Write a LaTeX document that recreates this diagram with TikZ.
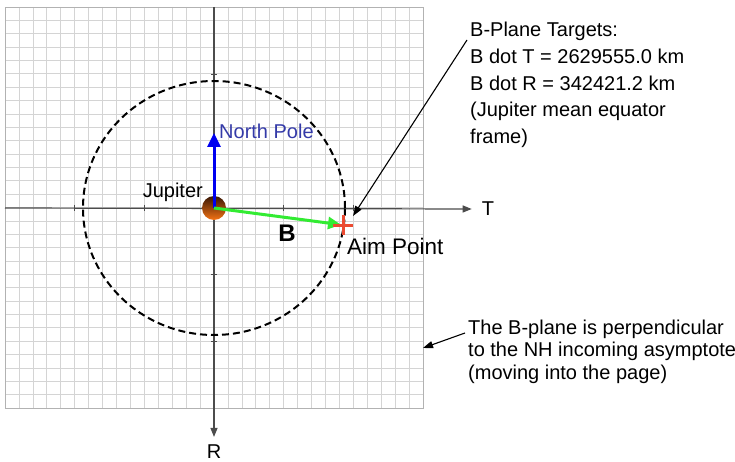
\documentclass[tikz,border=0pt]{standalone}
\usepackage{fontspec}
\setmainfont{Liberation Sans}
\usetikzlibrary{arrows.meta}
\definecolor{poleblue}{RGB}{0,0,240}
\definecolor{poletext}{RGB}{52,58,168}
\definecolor{bgreen}{RGB}{50,235,50}
\definecolor{aimred}{RGB}{235,75,50}
\definecolor{jupdark}{RGB}{55,22,5}
\definecolor{juplight}{RGB}{245,115,20}

\begin{document}
\begin{tikzpicture}[x=1pt, y=-1pt,
        every node/.style={font=\fontsize{20}{24}\selectfont, inner sep=0pt},
        gridline/.style={draw=black!17, line width=0.7pt},
        axis/.style={draw=black!70, line width=1.2pt, -{Triangle[length=9pt, width=7pt]}},
        axtick/.style={draw=black!70, line width=1pt},
        orbit/.style={draw=black, line width=2pt, dash pattern=on 7pt off 4pt},
        planet/.style={circle, minimum size=24pt, top color=jupdark, bottom color=juplight},
        polearrow/.style={draw=poleblue, line width=3pt, -{Triangle[length=14pt, width=13pt]}},
        barrow/.style={draw=bgreen, line width=3pt, -{Triangle[length=13pt, width=12pt]}},
        aimcross/.style={draw=aimred, line width=3pt},
        ptr/.style={draw=black, line width=1.1pt, -{Triangle[length=10pt, width=7pt]}},
        note/.style={align=left, anchor=north west}
    ]
    \useasboundingbox (0,0) rectangle (735,462);

    % grid
    \coordinate (gridNW) at (5,7);
    \coordinate (gridSE) at (423,408);
    \foreach \i in {1,...,29} {
        \draw[gridline] ({5+\i*418/30},7) -- ({5+\i*418/30},408);
        \draw[gridline] (5,{7+\i*401/30}) -- (423,{7+\i*401/30});
    }
    \draw[draw=black!30, line width=0.8pt] (gridNW) rectangle (gridSE);

    % axes
    \coordinate (O) at (214,208);
    \node (T) at (488,209) {T};
    \node (R) at (214,452) {R};
    \draw[axis] (gridNW |- O) -- ([xshift=-10pt]T.west);
    \draw[axis] (gridNW -| O) -- ([yshift=8pt]R.north);
    \foreach \k in {-10,-5,5,10} {
        \draw[axtick] ({214+\k*418/30},205) -- ({214+\k*418/30},211);
        \draw[axtick] (211,{208+\k*401/30}) -- (217,{208+\k*401/30});
    }

    \draw[orbit] (O) ellipse [x radius=131pt, y radius=127pt];

    % Jupiter and vectors
    \node[planet] (jup) at (O) {};
    \node[anchor=base east] (juplabel) at (203,198) {Jupiter};

    \coordinate (np) at (214,133);
    \draw[polearrow] (jup.center) -- (np);
    \node[anchor=west, text=poletext] (nplabel) at (219,131) {North Pole};

    \coordinate (aim) at (343,225);
    \draw[barrow, shorten >=2pt] (jup.center) -- (aim);
    \draw[aimcross] ([xshift=-10pt]aim) -- ([xshift=10pt]aim)
                    ([yshift=-10pt]aim) -- ([yshift=10pt]aim);
    \node[font=\fontsize{24}{28}\selectfont\bfseries] (blabel) at (287,233) {B};
    \node[anchor=base west, font=\fontsize{22.5}{26}\selectfont] (aimlabel) at (347,254) {Aim Point};

    % notes
    \node[note, font=\fontsize{20}{26.7}\selectfont] (targets) at (470,22)
        {B-Plane Targets:\\B dot T = 2629555.0 km\\B dot R = 342421.2 km\\(Jupiter mean equator\\frame)};
    \node[note, font=\fontsize{20}{22.3}\selectfont] (planenote) at (468,320)
        {The B-plane is perpendicular\\to the NH incoming asymptote\\(moving into the page)};

    \coordinate (tgtfoot) at (467,40);
    \coordinate (aimtip) at (353,216);
    \draw[ptr] (tgtfoot) -- (aimtip);
    \coordinate (planefoot) at (465,333);
    \coordinate (gridtip) at (423,348);
    \draw[ptr] (planefoot) -- (gridtip);
\end{tikzpicture}
\end{document}
